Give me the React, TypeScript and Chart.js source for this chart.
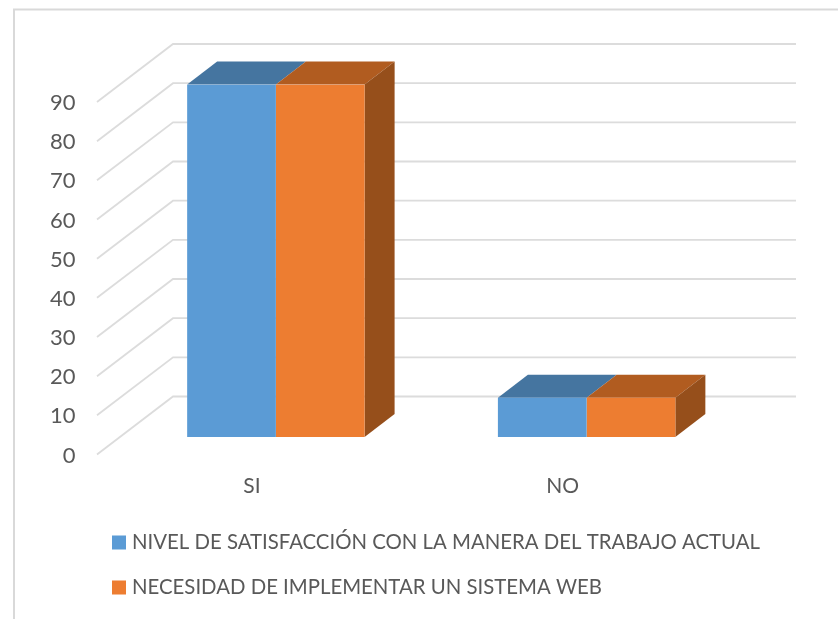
import React, { useEffect, useRef } from "react";
import { Chart, registerables } from "chart.js";

Chart.register(...registerables);

const categories = ["SI", "NO"];
const satisfaccion = [90, 10];
const necesidad = [90, 10];
const yTicks = [0, 10, 20, 30, 40, 50, 60, 70, 80, 90];
const seriesNames = [
  "NIVEL DE SATISFACCIÓN CON LA MANERA DEL TRABAJO ACTUAL",
  "NECESIDAD DE IMPLEMENTAR UN SISTEMA WEB",
];
const FONT = "Lato";
const TEXT = "#595959";
const GRID = "#dcdcdc";
const FRONT = ["#5B9BD5", "#ED7D31"];
const TOP = ["#4575A0", "#B15C20"];
const SIDE = "#964F1B";

const scene3d = {
  id: "scene3d",
  beforeDraw(chart: any) {
    const { ctx, width, height } = chart;
    ctx.save();
    ctx.fillStyle = "#fff";
    ctx.fillRect(0, 0, width, height);
    ctx.strokeStyle = "#d9d9d9";
    ctx.lineWidth = 2;
    ctx.beginPath();
    ctx.moveTo(14, height);
    ctx.lineTo(14, 9.5);
    ctx.lineTo(width, 9.5);
    ctx.stroke();
    ctx.restore();
  },
  beforeDatasetsDraw(chart: any) {
    const { ctx } = chart;
    const y = chart.scales.y;
    ctx.save();
    ctx.strokeStyle = GRID;
    ctx.lineWidth = 1.8;
    for (const v of yTicks) {
      const py = y.getPixelForValue(v) - 40.5;
      ctx.beginPath();
      ctx.moveTo(97, py + 58);
      ctx.lineTo(173, py);
      ctx.lineTo(796, py);
      ctx.stroke();
    }
    const dx = 30;
    const dy = -23;
    chart.data.datasets.forEach((_: any, di: number) => {
      const meta = chart.getDatasetMeta(di);
      meta.data.forEach((bar: any) => {
        const half = bar.width / 2;
        const l = bar.x - half;
        const r = bar.x + half;
        ctx.fillStyle = TOP[di];
        ctx.beginPath();
        ctx.moveTo(l, bar.y);
        ctx.lineTo(l + dx, bar.y + dy);
        ctx.lineTo(r + dx, bar.y + dy);
        ctx.lineTo(r, bar.y);
        ctx.closePath();
        ctx.fill();
        if (di === chart.data.datasets.length - 1) {
          ctx.fillStyle = SIDE;
          ctx.beginPath();
          ctx.moveTo(r, bar.y);
          ctx.lineTo(r + dx, bar.y + dy);
          ctx.lineTo(r + dx, bar.base + dy);
          ctx.lineTo(r, bar.base);
          ctx.closePath();
          ctx.fill();
        }
      });
    });
    ctx.restore();
  },
  afterDraw(chart: any) {
    const { ctx } = chart;
    ctx.save();
    ctx.font = `20.37px ${FONT}`;
    ctx.textBaseline = "middle";
    chart.data.datasets.forEach((ds: any, i: number) => {
      const cy = 542.5 + i * 45;
      ctx.fillStyle = ds.backgroundColor;
      ctx.fillRect(112, cy - 7, 14, 14);
      ctx.fillStyle = TEXT;
      ctx.fillText(ds.label, 132, cy);
    });
    ctx.restore();
  },
};

export default function App() {
  const ref = useRef<HTMLCanvasElement>(null);
  useEffect(() => {
    const chart = new Chart(ref.current as HTMLCanvasElement, {
      type: "bar",
      data: {
        labels: categories,
        datasets: [
          { label: seriesNames[0], data: satisfaccion, backgroundColor: FRONT[0] },
          { label: seriesNames[1], data: necesidad, backgroundColor: FRONT[1] },
        ],
      },
      plugins: [scene3d],
      options: {
        responsive: false,
        animation: false,
        layout: { padding: { left: 0, top: 84.5, right: 96, bottom: 0 } },
        plugins: { legend: { display: false }, tooltip: { enabled: false } },
        datasets: { bar: { categoryPercentage: 0.571, barPercentage: 1, borderWidth: 0 } },
        scales: {
          x: {
            grid: { display: false },
            border: { display: false },
            ticks: {
              color: TEXT,
              font: { family: FONT, size: 21 },
              padding: 29,
              labelOffset: -24,
              maxRotation: 0,
            },
            afterFit(scale: any) {
              scale.height = 182;
            },
          },
          y: {
            min: 0,
            max: 90,
            grid: { display: false },
            border: { display: false },
            ticks: {
              stepSize: 10,
              color: TEXT,
              font: { family: FONT, size: 22 },
              padding: 37,
              labelOffset: 18.5,
            },
            afterFit(scale: any) {
              scale.width = 120.5;
            },
          },
        },
      },
    } as any);
    return () => chart.destroy();
  }, []);
  return (
    <div style={{ position: "absolute", left: 0, top: 0, width: 838, height: 619 }}>
      <canvas ref={ref} width={838} height={619} style={{ display: "block" }} />
    </div>
  );
}
